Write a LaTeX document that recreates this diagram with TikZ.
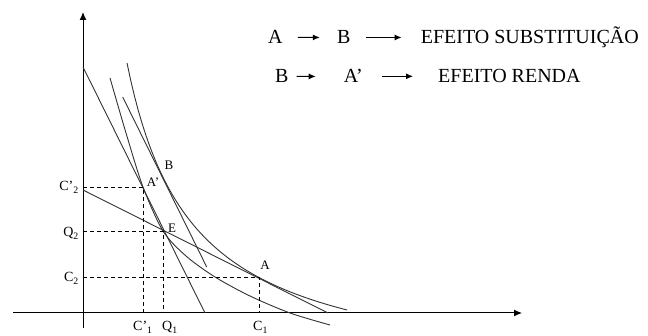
\documentclass[tikz,border=0pt]{standalone}
\usepackage{fontspec}
\setmainfont{Liberation Serif}
\usetikzlibrary{arrows.meta,positioning,calc}

\begin{document}
\begin{tikzpicture}[
    x=1pt, y=1pt,
    axis/.style={line width=1pt, -{Latex[length=8pt,width=7pt]}},
    curve/.style={line width=0.9pt, black!80},
    guide/.style={dash pattern=on 4pt off 3pt, line width=0.8pt},
    axlab/.style={font=\fontsize{14}{16}\selectfont, inner sep=0pt},
    ptlab/.style={font=\fontsize{13}{15}\selectfont, inner sep=0pt},
    txt/.style={font=\fontsize{20}{24}\selectfont, inner sep=0pt},
    arrow/.style={-{Latex[length=7pt,width=6pt]}, line width=1pt}
]
\useasboundingbox (0,0) rectangle (648,336);

% axes
\coordinate (O) at (83,23);
\coordinate (ytop) at (83,324);
\coordinate (ybot) at (83,8);
\coordinate (xl) at (13,23);
\coordinate (xr) at (522,23);
\draw[axis] (ybot) -- (ytop);
\draw[axis] (xl) -- (xr);

% points
\coordinate (A) at (259,59);
\coordinate (B) at (163,158);
\coordinate (Ap) at (143,149);
\coordinate (E) at (163,105);

% budget lines
\draw[curve] (83,269) -- (205,23);
\draw[curve] (122.7,239) -- (206.7,69);
\draw[curve] (83,146) -- (328,23);

% indifference curves
\draw[curve] plot[smooth] coordinates {(110,258) (126,203) (143,149) (163,105) (186,80) (215,59) (250,40) (290,23) (330,11)};
\draw[curve] plot[domain=44:264, samples=60] ({83+\x},{206.42/(\x+20.6)*100-46.5});

% guides
\draw[guide] (O |- Ap) -- (Ap) -- (Ap |- O);
\draw[guide] (O |- E) -- (E) -- (E |- O);
\draw[guide] (O |- A) -- (A) -- (A |- O);

\node[axlab, anchor=base east] (lc2p) at (79,145) {C’\textsubscript{2}};
\node[axlab, anchor=base east] (lq2) at (79,99) {Q\textsubscript{2}};
\node[axlab, anchor=base east] (lc2) at (79,54) {C\textsubscript{2}};
\node[axlab, anchor=base west] (lc1p) at (133,5) {C’\textsubscript{1}};
\node[axlab, anchor=base west] (lq1) at (162,5) {Q\textsubscript{1}};
\node[axlab, anchor=base west] (lc1) at (253,5) {C\textsubscript{1}};

\node[ptlab] (lA) at ([shift={(6,12)}]A) {A};
\node[ptlab] (lB) at ([shift={(6,13)}]B) {B};
\node[ptlab] (lAp) at ([shift={(10,5)}]Ap) {A’};
\node[ptlab] (lE) at ([shift={(9,3)}]E) {E};

% legend
\node[txt, anchor=base west] (sa) at (268,292) {A};
\node[txt, base right=54pt of sa] (sb) {B};
\node[txt, base right=70pt of sb] (se) {EFEITO SUBSTITUIÇÃO};
\draw[arrow, shorten <=15pt, shorten >=17pt] (sa) -- (sb);
\draw[arrow, shorten <=15pt, shorten >=19pt] (sb) -- (sb -| se.west);

\node[txt, anchor=base west] (rb) at (275,253) {B};
\node[txt, base right=55pt of rb] (ra) {A’};
\node[txt, base right=75pt of ra] (re) {EFEITO RENDA};
\draw[arrow, shorten <=8pt, shorten >=28pt] (rb) -- (ra);
\draw[arrow, shorten <=19pt, shorten >=25pt] (ra) -- (ra -| re.west);
\end{tikzpicture}
\end{document}
